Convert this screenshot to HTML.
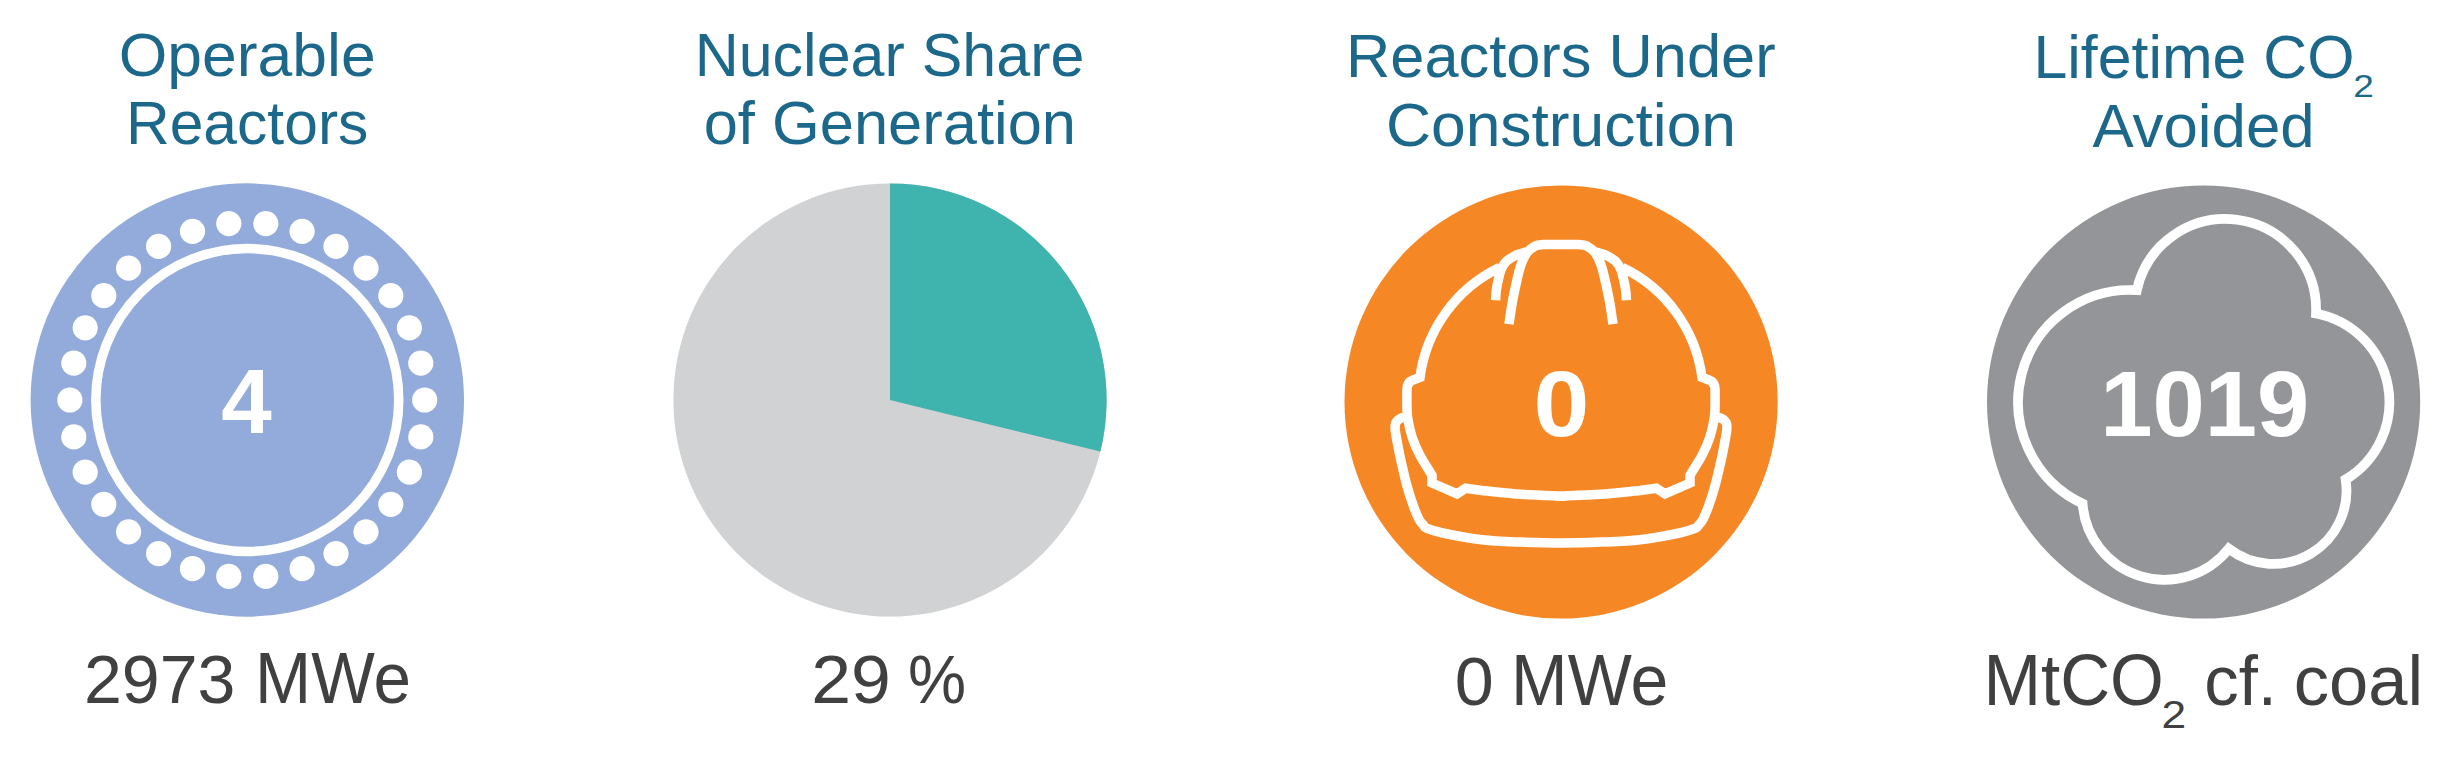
<!DOCTYPE html>
<html lang="en"><head><meta charset="utf-8"><title>Nuclear power summary</title>
<style>
html,body{margin:0;padding:0;background:#fff;}
body{width:2456px;height:761px;overflow:hidden;}
svg{display:block;}
text{font-family:"Liberation Sans",sans-serif;}
.t{fill:#1c688b;}
.b{fill:#404041;}
.n{fill:#fff;font-weight:bold;}
</style></head><body>
<svg width="2456" height="761" viewBox="0 0 2456 761">
<rect width="2456" height="761" fill="#fff"/>
<g id="c1"><circle cx="247.3" cy="400.0" r="216.7" fill="#92abda"/><circle cx="247.3" cy="400.0" r="151.45" fill="none" stroke="#fff" stroke-width="9.5"/><g fill="#fff"><circle cx="265.8" cy="223.6" r="12.6"/><circle cx="302.1" cy="231.3" r="12.6"/><circle cx="336.0" cy="246.4" r="12.6"/><circle cx="366.0" cy="268.2" r="12.6"/><circle cx="390.8" cy="295.7" r="12.6"/><circle cx="409.4" cy="327.8" r="12.6"/><circle cx="420.8" cy="363.1" r="12.6"/><circle cx="424.7" cy="400.0" r="12.6"/><circle cx="420.8" cy="436.9" r="12.6"/><circle cx="409.4" cy="472.2" r="12.6"/><circle cx="390.8" cy="504.3" r="12.6"/><circle cx="366.0" cy="531.8" r="12.6"/><circle cx="336.0" cy="553.6" r="12.6"/><circle cx="302.1" cy="568.7" r="12.6"/><circle cx="265.8" cy="576.4" r="12.6"/><circle cx="228.8" cy="576.4" r="12.6"/><circle cx="192.5" cy="568.7" r="12.6"/><circle cx="158.6" cy="553.6" r="12.6"/><circle cx="128.6" cy="531.8" r="12.6"/><circle cx="103.8" cy="504.3" r="12.6"/><circle cx="85.2" cy="472.2" r="12.6"/><circle cx="73.8" cy="436.9" r="12.6"/><circle cx="69.9" cy="400.0" r="12.6"/><circle cx="73.8" cy="363.1" r="12.6"/><circle cx="85.2" cy="327.8" r="12.6"/><circle cx="103.8" cy="295.7" r="12.6"/><circle cx="128.6" cy="268.2" r="12.6"/><circle cx="158.6" cy="246.4" r="12.6"/><circle cx="192.5" cy="231.3" r="12.6"/><circle cx="228.8" cy="223.6" r="12.6"/></g></g>
<g id="c2"><circle cx="890.0" cy="400.0" r="216.6" fill="#d1d2d4"/><path d="M890.0 400.0L890.0 183.4A216.6 216.6 0 0 1 1100.4 451.6Z" fill="#3fb3ad"/></g>
<g id="c3"><circle cx="1561.1" cy="402.0" r="216.6" fill="#f58825"/><path fill="none" stroke="#fff" stroke-width="9.5" stroke-linejoin="miter" stroke-miterlimit="6" stroke-linecap="butt" d="M1509.0 324.2C1509.5 320.7 1511.0 309.9 1512.2 303.0C1513.4 296.1 1514.9 289.2 1516.3 283.0C1517.7 276.8 1518.9 270.9 1520.6 266.0C1522.3 261.1 1524.0 256.8 1526.4 253.5C1528.8 250.2 1532.3 247.5 1535.2 246.0C1538.1 244.5 1539.3 244.8 1543.6 244.5C1547.9 244.2 1555.2 244.5 1561.0 244.5C1566.8 244.5 1574.1 244.2 1578.4 244.5C1582.7 244.8 1583.9 244.5 1586.8 246.0C1589.7 247.5 1593.2 250.2 1595.6 253.5C1598.0 256.8 1599.7 261.1 1601.4 266.0C1603.1 270.9 1604.3 276.8 1605.7 283.0C1607.1 289.2 1608.6 296.1 1609.8 303.0C1611.0 309.9 1612.5 320.7 1613.0 324.2 M1495.6 300.3C1495.7 298.6 1495.8 293.8 1496.3 290.4C1496.8 287.0 1497.5 283.3 1498.3 279.9C1499.1 276.5 1499.7 273.1 1500.9 270.1C1502.1 267.2 1503.2 264.6 1505.5 262.2C1507.8 259.8 1511.9 257.4 1514.7 255.9C1517.5 254.4 1520.2 253.8 1522.6 253.0C1525.0 252.2 1528.0 251.3 1529.1 251.0 M1626.4 300.3C1626.3 298.6 1626.2 293.8 1625.7 290.4C1625.2 287.0 1624.5 283.3 1623.7 279.9C1622.9 276.5 1622.3 273.1 1621.1 270.1C1619.9 267.2 1618.8 264.6 1616.5 262.2C1614.2 259.8 1610.1 257.4 1607.3 255.9C1604.5 254.4 1601.8 253.8 1599.4 253.0C1597.0 252.2 1594.0 251.3 1592.9 251.0 M1499.5 267.6A142.3 142.3 0 0 0 1420.0 377.4L1413.0 380.0Q1406.9 382.3 1406.9 390.0L1406.9 403.0C1407.0 405.5 1406.8 412.3 1407.7 418.0C1408.6 423.7 1410.2 431.2 1412.2 437.4C1414.2 443.5 1416.4 448.6 1419.7 454.9C1423.0 461.2 1430.0 471.8 1432.0 475.2L1432.0 483.0L1457.0 493.9L1465.6 488.3L1482.0 490.5C1488.6 491.1 1508.2 493.4 1521.4 494.3C1534.6 495.2 1553.9 495.7 1561.0 496.0C1568.1 496.3 1563.5 496.0 1564.0 496.0 M1622.5 267.6A142.3 142.3 0 0 1 1702.0 377.4L1709.0 380.0Q1715.1 382.3 1715.1 390.0L1715.1 403.0C1715.0 405.5 1715.2 412.3 1714.3 418.0C1713.4 423.7 1711.8 431.2 1709.8 437.4C1707.8 443.5 1705.6 448.6 1702.3 454.9C1699.0 461.2 1692.0 471.8 1690.0 475.2L1690.0 483.0L1665.0 493.9L1656.4 488.3L1640.0 490.5C1633.4 491.1 1613.8 493.4 1600.6 494.3C1587.4 495.2 1568.1 495.7 1561.0 496.0C1553.9 496.3 1558.5 496.0 1558.0 496.0 M1406.9 416.0C1405.4 416.7 1400.0 418.0 1398.0 420.0C1396.0 422.0 1395.0 423.0 1395.1 428.0C1395.2 433.0 1397.8 444.6 1398.7 449.9C1399.7 455.2 1399.4 453.9 1400.8 460.0C1402.2 466.1 1405.0 478.6 1407.1 486.3C1409.2 494.0 1411.4 500.5 1413.4 506.0C1415.4 511.5 1417.3 516.0 1418.9 519.1C1420.5 522.2 1421.6 522.9 1422.9 524.4C1424.2 525.9 1423.6 526.9 1426.9 528.3C1430.2 529.7 1433.4 531.1 1442.6 533.0C1451.8 534.9 1468.9 538.3 1482.0 539.8C1495.1 541.3 1508.2 541.6 1521.4 542.1C1534.6 542.6 1547.8 543.0 1561.0 543.0C1574.2 543.0 1587.4 542.6 1600.6 542.1C1613.8 541.6 1626.9 541.3 1640.0 539.8C1653.1 538.3 1670.2 534.9 1679.4 533.0C1688.6 531.1 1691.8 529.7 1695.1 528.3C1698.4 526.9 1697.8 525.9 1699.1 524.4C1700.4 522.9 1701.5 522.2 1703.1 519.1C1704.7 516.0 1706.6 511.5 1708.6 506.0C1710.6 500.5 1712.8 494.0 1714.9 486.3C1717.0 478.6 1719.8 466.1 1721.2 460.0C1722.6 453.9 1722.3 455.2 1723.3 449.9C1724.2 444.6 1726.8 433.0 1726.9 428.0C1727.0 423.0 1726.0 422.0 1724.0 420.0C1722.0 418.0 1716.6 416.7 1715.1 416.0"/></g>
<g id="c4"><circle cx="2203.6" cy="402.0" r="216.6" fill="#939598"/><path d="M2136.8 290.2A90.7 90.7 0 0 1 2316.0 313.4A90.3 90.3 0 0 1 2345.6 479.5A73.1 73.1 0 0 1 2228.7 548.7A82.0 82.0 0 0 1 2082.6 503.6A112.1 112.1 0 0 1 2136.8 290.2Z" fill="none" stroke="#fff" stroke-width="9.7" stroke-linejoin="miter"/></g>
<text class="t"><tspan x="118.8" y="75.6" font-size="61" textLength="256.9" lengthAdjust="spacingAndGlyphs">Operable</tspan> <tspan x="125.9" y="144.1" font-size="61" textLength="242.5" lengthAdjust="spacingAndGlyphs">Reactors</tspan></text>
<text class="t"><tspan x="694.7" y="75.6" font-size="61" textLength="389.7" lengthAdjust="spacingAndGlyphs">Nuclear Share</tspan> <tspan x="703.7" y="144.1" font-size="61" textLength="372.3" lengthAdjust="spacingAndGlyphs">of Generation</tspan></text>
<text class="t"><tspan x="1346.0" y="77.3" font-size="61" textLength="429.6" lengthAdjust="spacingAndGlyphs">Reactors Under</tspan> <tspan x="1386.0" y="146.3" font-size="61" textLength="350.0" lengthAdjust="spacingAndGlyphs">Construction</tspan></text>
<text class="t"><tspan x="2033.5" y="77.7" font-size="61" textLength="321.0" lengthAdjust="spacingAndGlyphs">Lifetime CO</tspan><tspan x="2353.3" y="97.2" font-size="31" textLength="20.6" lengthAdjust="spacingAndGlyphs">2</tspan> <tspan x="2092.5" y="146.6" font-size="61" textLength="222.2" lengthAdjust="spacingAndGlyphs">Avoided</tspan></text>
<text class="b"><tspan x="83.9" y="702.7" font-size="68" textLength="151.5" lengthAdjust="spacingAndGlyphs">2973</tspan> <tspan x="255.0" y="702.7" font-size="72" textLength="156.0" lengthAdjust="spacingAndGlyphs">MWe</tspan></text>
<text class="b"><tspan x="811.3" y="702.7" font-size="68" textLength="79.6" lengthAdjust="spacingAndGlyphs">29</tspan> <tspan x="908.1" y="702.7" font-size="68" textLength="58.1" lengthAdjust="spacingAndGlyphs">%</tspan></text>
<text class="b"><tspan x="1454.7" y="704.7" font-size="68" textLength="39.0" lengthAdjust="spacingAndGlyphs">0</tspan> <tspan x="1511.1" y="704.7" font-size="72" textLength="157.3" lengthAdjust="spacingAndGlyphs">MWe</tspan></text>
<text class="b"><tspan x="1983.4" y="704.6" font-size="72" textLength="180.4" lengthAdjust="spacingAndGlyphs">MtCO</tspan><tspan x="2161.5" y="728.0" font-size="38" textLength="24.7" lengthAdjust="spacingAndGlyphs">2</tspan> <tspan x="2204.3" y="704.6" font-size="69.5" textLength="72.7" lengthAdjust="spacingAndGlyphs">cf.</tspan> <tspan x="2293.8" y="704.6" font-size="69.5" textLength="129.4" lengthAdjust="spacingAndGlyphs">coal</tspan></text>
<text class="n"><tspan x="221.2" y="433.1" font-size="90.8" textLength="50.5" lengthAdjust="spacingAndGlyphs">4</tspan></text>
<text class="n"><tspan x="1533.4" y="435.6" font-size="92" textLength="55.9" lengthAdjust="spacingAndGlyphs">0</tspan></text>
<text class="n"><tspan x="2100.2" y="435.6" font-size="92" textLength="209.1" lengthAdjust="spacingAndGlyphs">1019</tspan></text>
</svg></body></html>
